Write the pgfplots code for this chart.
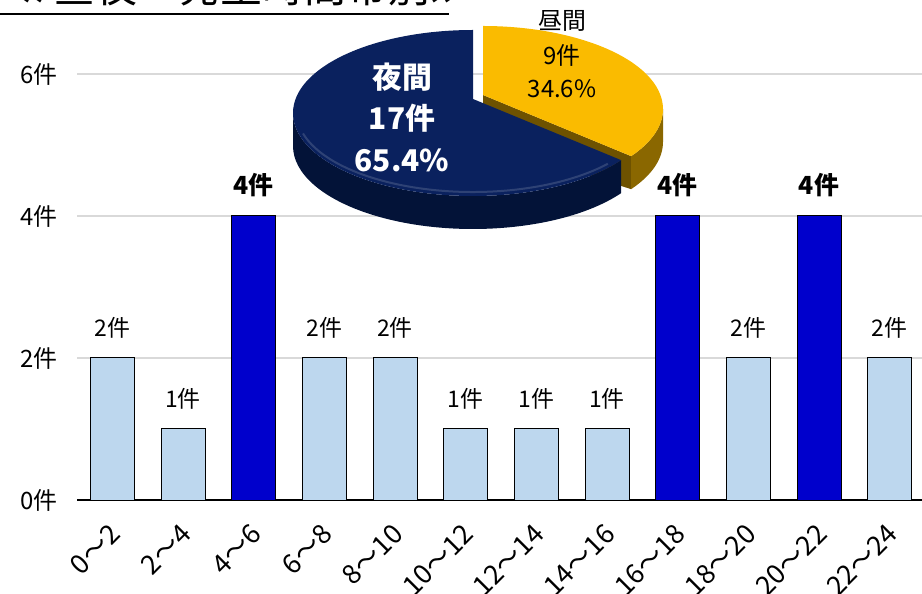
\documentclass[border=0pt]{standalone}
\usepackage{fontspec}
\setmainfont{Noto Sans CJK JP}
\usepackage{pgfplots}
\pgfplotsset{compat=1.18}
\definecolor{lightbar}{HTML}{BDD7EE}
\definecolor{darkbar}{HTML}{0000CC}
\definecolor{pienavy}{HTML}{0A215E}
\definecolor{pienavyside}{HTML}{031338}
\definecolor{pieyellow}{HTML}{FABB00}
\definecolor{pieyellowside}{HTML}{8A6700}
\definecolor{pieyellowface}{HTML}{6E5200}
\definecolor{gridgray}{HTML}{D9D9D9}
\begin{document}
\begin{tikzpicture}
\useasboundingbox (0,0) rectangle (922bp,594bp);
\clip (0,0) rectangle (922bp,594bp);
\begin{axis}[
  at={(77bp,94bp)}, anchor=south west,
  scale only axis, width=848bp, height=426bp,
  xmin=-0.5, xmax=11.5, ymin=0, ymax=6,
  axis x line*=bottom, axis y line*=left,
  y axis line style={draw=none},
  x axis line style={line width=1.8bp, black, -},
  xtick={0,...,11},
  xticklabels={0〜2,2〜4,4〜6,6〜8,8〜10,10〜12,12〜14,14〜16,16〜18,18〜20,20〜22,22〜24},
  ytick={0,2,4,6},
  yticklabel={\pgfmathprintnumber{\tick}件},
  /pgf/number format/assume math mode=true,
  major tick length=0pt,
  ymajorgrids, grid style={gridgray, line width=1.3bp},
  yticklabel style={font=\fontsize{24}{24}\selectfont, anchor=east, inner sep=0pt, xshift=-19bp},
  xticklabel style={font=\fontsize{27}{27}\selectfont, inner sep=0pt, xshift=3bp, yshift=-29bp, rotate=45, anchor=east},
  nodes near coords={\pgfmathprintnumber{\pgfplotspointmeta}件},
  every node near coord/.append style={anchor=south, inner sep=0pt, yshift=19bp, text=black},
  clip=false,
]
\addplot[ybar, bar width=44bp, bar shift=0pt, fill=lightbar, draw=black, line width=1bp,
  every node near coord/.append style={font=\fontsize{23}{23}\selectfont}]
  coordinates {(0,2) (1,1) (3,2) (4,2) (5,1) (6,1) (7,1) (9,2) (11,2)};
\addplot[ybar, bar width=44bp, bar shift=0pt, fill=darkbar, draw=black, line width=1bp,
  every node near coord/.append style={font=\fontsize{25}{25}\selectfont\bfseries}]
  coordinates {(2,4) (8,4) (10,4)};
\end{axis}
% title (cut off at the top of the picture)
\node[anchor=base west, inner sep=0pt, font=\fontsize{42}{42}\selectfont] at (2bp,591bp) {≪ 昼夜　発生時間帯別≫};
\draw[line width=2bp] (0,580bp) -- (449bp,580bp);
% pie: night 17, day 9
\def\nightval{17}\def\dayval{9}
\pgfmathsetmacro\e{90+360*\nightval/(\nightval+\dayval)}
\begin{scope}[shift={(483bp,485bp)}, x radius=180bp, y radius=83bp]
  \fill[pieyellowface] (0,14bp) -- (\e:180bp and 83bp) -- ++(0,-33bp) -- (0,-33bp) -- cycle;
  \fill[pieyellowside] (\e:180bp and 83bp) arc[start angle=\e, end angle=360] -- ++(0,-33bp) arc[start angle=360, end angle=\e] -- cycle;
  \fill[pieyellow] (0,14bp) -- (\e:180bp and 83bp) arc[start angle=\e, end angle=450] -- cycle;
\end{scope}
\begin{scope}[shift={(473bp,481bp)}, x radius=180bp, y radius=83bp]
  \fill[pienavyside] (180:180bp and 83bp) arc[start angle=180, end angle=\e] -- ++(0,-33bp) arc[start angle=\e, end angle=180] -- cycle;
  \fill[pienavy] (0,14bp) -- (90:180bp and 83bp) arc[start angle=90, end angle=\e] -- cycle;
  \draw[white, opacity=0.15, line width=2bp] (195:176bp and 79bp) arc[start angle=195, end angle=320, x radius=176bp, y radius=79bp];
\end{scope}
% pie labels
\begin{scope}[every node/.style={inner sep=0pt}]
\node[text=white, font=\fontsize{30}{30}\selectfont\bfseries] at (402bp,517bp) {夜間};
\node[text=white, font=\fontsize{30}{30}\selectfont\bfseries] at (402bp,476bp) {17件};
\node[text=white, font=\fontsize{30}{30}\selectfont\bfseries] at (402bp,434bp) {65.4\%};
\node[text=black, font=\fontsize{24}{24}\selectfont] at (562bp,573bp) {昼間};
\node[text=black, font=\fontsize{24}{24}\selectfont] at (562bp,539bp) {9件};
\node[text=black, font=\fontsize{24}{24}\selectfont] at (562bp,505bp) {34.6\%};
\end{scope}
\end{tikzpicture}
\end{document}
